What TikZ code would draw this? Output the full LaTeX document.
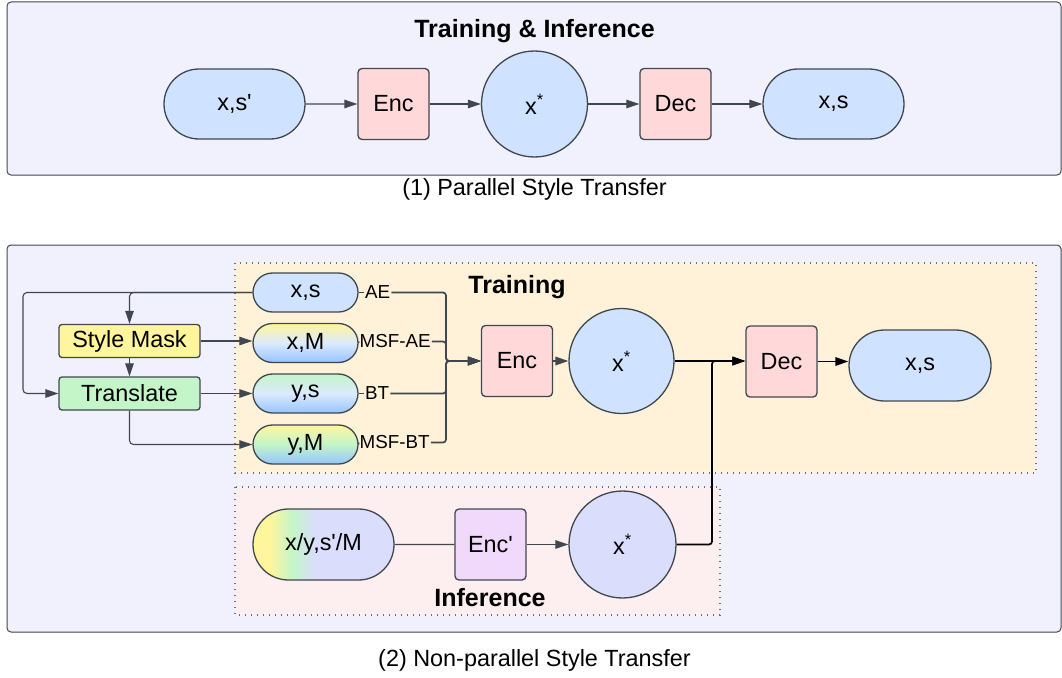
\documentclass[tikz,border=0pt]{standalone}
\usepackage{fontspec}
\setmainfont{Liberation Sans}
\usetikzlibrary{shapes.misc, shapes.geometric, arrows.meta}

\definecolor{panelf}{HTML}{F1F1FD}
\definecolor{edgec}{HTML}{41474F}
\definecolor{bluef}{HTML}{CFE2FF}
\definecolor{blueb}{HTML}{96C4FF}
\definecolor{palebl}{HTML}{DCEAFD}
\definecolor{pinkf}{HTML}{FFD9DA}
\definecolor{trainf}{HTML}{FFF2D9}
\definecolor{inff}{HTML}{FDEFEF}
\definecolor{lavf}{HTML}{DADDFB}
\definecolor{encpf}{HTML}{F0D9FB}
\definecolor{yelf}{HTML}{FFF59D}
\definecolor{grnf}{HTML}{C3F5C8}
\definecolor{dotc}{HTML}{6B6F78}

\pgfdeclarehorizontalshading{infshade}{100bp}{color(0bp)=(yelf); color(31bp)=(yelf); color(39bp)=(grnf); color(47bp)=(lavf); color(100bp)=(lavf)}

\newcommand\mainsz{\fontsize{23.4}{28}\selectfont}
\newcommand\lblsz{\fontsize{18.8}{22}\selectfont}
\newcommand\ttlsz{\bfseries\fontsize{25}{30}\selectfont}
\newcommand\pr{\textquotesingle}

\tikzset{
  panel/.style={draw=edgec, line width=1pt, fill=panelf, rounded corners=4pt},
  region/.style={draw=dotc, line width=1.4pt, dash pattern=on 1.4pt off 4.6pt},
  pill/.style={rounded rectangle, draw=edgec, line width=1.3pt, font=\mainsz, inner sep=0pt},
  bigpill/.style={pill, minimum width=141pt, minimum height=70pt},
  smallpill/.style={pill, minimum width=105pt, minimum height=39pt},
  sqbox/.style={rectangle, rounded corners=4pt, draw=edgec, line width=1.3pt, fill=pinkf,
    minimum width=71pt, minimum height=71pt, font=\mainsz, inner sep=0pt},
  wbox/.style={rectangle, rounded corners=3pt, draw=edgec, line width=1.3pt,
    minimum width=141pt, minimum height=33pt, font=\mainsz, inner sep=0pt},
  latent/.style={circle, draw=edgec, line width=1.3pt, minimum size=106pt, font=\mainsz, inner sep=0pt},
  conn/.style={draw=edgec, line width=1.1pt},
  arr/.style={conn, -{Triangle[length=13pt, width=8.5pt]}},
  heavy/.style={draw=edgec, line width=1.7pt, rounded corners=3pt},
  harr/.style={heavy, -{Triangle[length=13pt, width=8.5pt]}},
  bline/.style={draw=black, line width=1.7pt, rounded corners=3pt},
  barr/.style={bline, -{Triangle[length=13pt, width=8.5pt]}},
  tag/.style={font=\lblsz, fill=trainf, inner sep=1pt, anchor=west},
  caption/.style={font=\mainsz},
}

\begin{document}
\begin{tikzpicture}[x=1pt, y=-1pt]
\useasboundingbox (0,0) rectangle (1062,677);

% ---------- (1) parallel ----------
\draw[panel] (7,2) rectangle (1061,175);
\node[font=\ttlsz] (title1) at (534.5,31) {Training \& Inference};

\node[bigpill, fill=bluef] (in1) at (234.5,104) {x,s\pr};
\node[sqbox] (enc1) at (393.5,104) {Enc};
\node[latent, fill=bluef] (z1) at (534.5,104) {x\textsuperscript{*}};
\node[sqbox] (dec1) at (675.5,104) {Dec};
\node[bigpill, fill=bluef] (out1) at (833.5,104) {x,s};

\draw[arr] (in1) -- (enc1);
\draw[arr] (enc1) -- (z1);
\draw[arr] (z1) -- (dec1);
\draw[arr] (dec1) -- (out1);

\node[caption] (cap1) at (534.5,189) {(1) Parallel Style Transfer};

% ---------- (2) non-parallel ----------
\draw[panel] (7,245) rectangle (1061,632);
\draw[region, fill=trainf] (235,263) rectangle (1036,473);
\draw[region, fill=inff] (235,487) rectangle (720,615);

\node[font=\ttlsz] (ttrain) at (517,287) {Training};
\node[font=\ttlsz] (tinf) at (490,598) {Inference};

% inputs of training
\node[smallpill, fill=bluef] (xs) at (305.5,292.5) {x,s};
\node[smallpill, top color=yelf, bottom color=blueb, middle color=palebl] (xm) at (305.5,343) {x,M};
\node[smallpill, top color=grnf, bottom color=blueb, middle color=palebl] (ys) at (305.5,393.5) {y,s};
\node[smallpill, top color=yelf, bottom color=blueb, middle color=grnf] (ym) at (305.5,444.5) {y,M};

\node[tag] (tAE) at (364,292.5) {AE};
\node[tag] (tMAE) at (358.5,341.5) {MSF-AE};
\node[tag] (tBT) at (364,393.5) {BT};
\node[tag] (tMBT) at (358.5,442.5) {MSF-BT};

% preprocessing
\node[wbox, fill=yelf] (mask) at (129.5,341) {Style Mask};
\node[wbox, fill=grnf] (trans) at (129.5,393.5) {Translate};

\coordinate (lft) at (23,292.5);
\draw[arr, rounded corners=4pt] (xs.west) -- (lft) |- (trans.west);
\draw[arr, rounded corners=4pt] (xs.west) -| (mask.north);
\draw[arr] (mask.south) -- (trans.north);
\draw[arr] (mask.east) -- (mask.east -| xm.west);
\draw[arr] (trans.east) -- (trans.east -| ys.west);
\draw[arr, rounded corners=4pt] (trans.south) |- (ym.west);

% encoder / decoder of training
\node[sqbox] (enc2) at (517,361) {Enc};
\node[latent, fill=bluef, minimum size=105pt] (z2) at (621.5,361) {x\textsuperscript{*}};
\node[sqbox] (dec2) at (781.5,361.5) {Dec};
\node[bigpill, fill=bluef, minimum width=142pt, minimum height=71pt] (out2) at (920,365.5) {x,s};

\coordinate (merge) at (446,361);
\draw[heavy] (xs.east) -- (tAE.west);
\draw[heavy] (xm.east) -- (tMAE.west);
\draw[heavy] (ys.east) -- (tBT.west);
\draw[heavy] (ym.east) -- (tMBT.west);
\draw[harr] (tAE.east) -| (merge) -- (enc2.west);
\draw[harr] (tMAE.east) -| (merge) -- (enc2.west);
\draw[harr] (tBT.east) -| (merge) -- (enc2.west);
\draw[harr] (tMBT.east) -| (merge) -- (enc2.west);

\draw[harr] (enc2) -- (z2);
\draw[barr] (z2.east) -- (z2.east -| dec2.west);
\draw[barr] (dec2.east) -- (dec2.east -| out2.west);

% inference
\node[bigpill, shading=infshade, shade, minimum width=141pt, minimum height=71pt] (inp) at (323.5,544.5) {x/y,s\pr/M};
\node[sqbox, fill=encpf] (encp) at (490.5,544.5) {Enc\pr};
\node[latent, fill=lavf, minimum size=107pt] (z3) at (622.5,544.5) {x\textsuperscript{*}};

\draw[conn] (inp) -- (encp);
\draw[arr] (encp) -- (z3);
\coordinate (jn) at (712,361);
\draw[barr] (z3.east) -| (jn) -- (jn -| dec2.west);

\node[caption] (cap2) at (534.5,660) {(2) Non-parallel Style Transfer};
\end{tikzpicture}
\end{document}
